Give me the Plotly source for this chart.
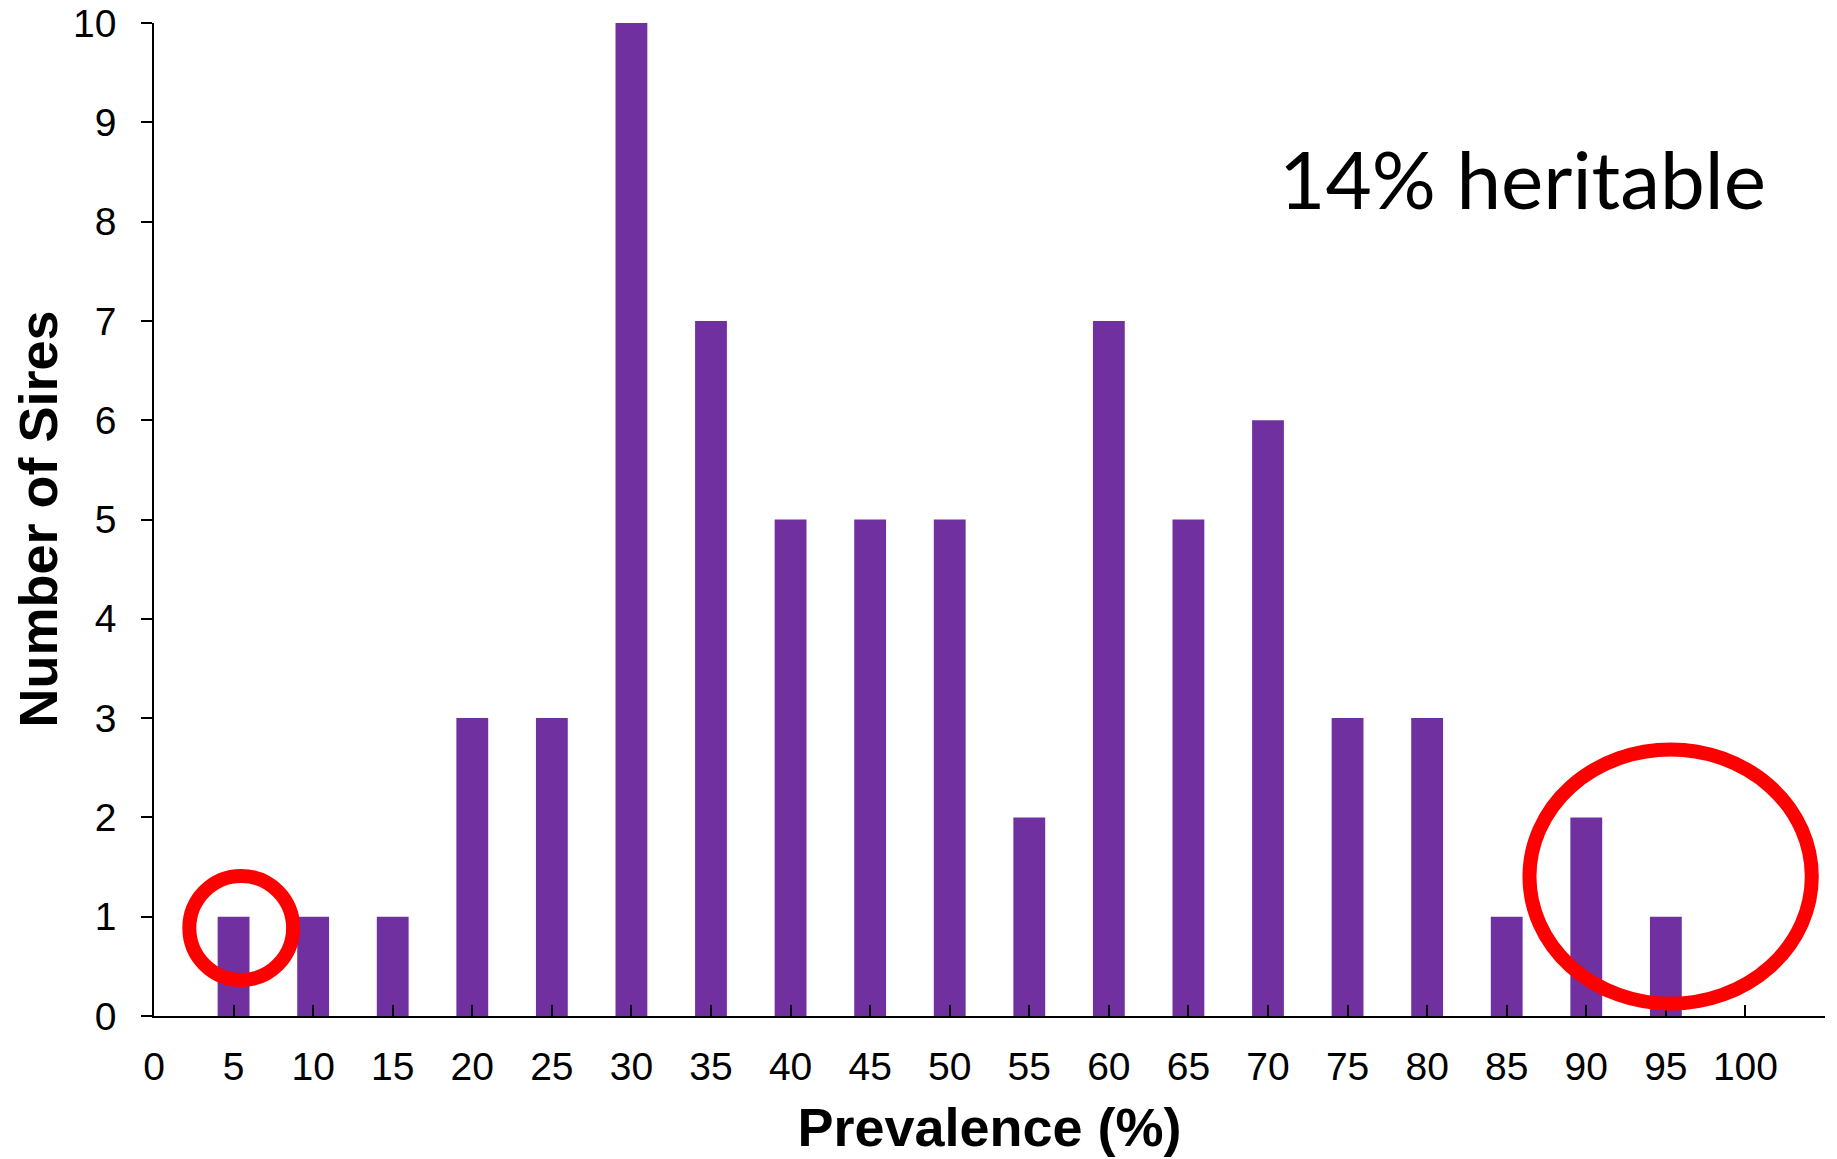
import plotly.graph_objects as go

# Data
prevalence = [5, 10, 15, 20, 25, 30, 35, 40, 45, 50, 55, 60, 65, 70, 75, 80, 85, 90, 95]
num_sires = [1, 1, 1, 3, 3, 10, 7, 5, 5, 5, 2, 7, 5, 6, 3, 3, 1, 2, 1]
x_tickvals = list(range(0, 106, 5))
x_ticktext = [str(v) for v in range(0, 101, 5)] + [""]
y_tickvals = list(range(0, 11))

fig = go.Figure()
fig.add_trace(go.Bar(
    x=prevalence, y=num_sires, width=2,
    marker=dict(color="#7030A0", line=dict(width=0)),
))

# Red highlight circles
fig.add_shape(type="circle", xref="x", yref="y",
              x0=5.48 - 3.26, x1=5.48 + 3.26, y0=0.886 - 0.524, y1=0.886 + 0.524,
              line=dict(color="#FF0000", width=14), layer="above")
fig.add_shape(type="circle", xref="x", yref="y",
              x0=95.3 - 8.87, x1=95.3 + 8.87, y0=1.404 - 1.28, y1=1.404 + 1.28,
              line=dict(color="#FF0000", width=14), layer="above")

fig.add_annotation(text="14% heritable", xref="paper", yref="paper",
                   x=(1522 - 153.5) / (1825 - 153.5), y=(1016 - 178) / (1016 - 23.4),
                   xanchor="center", yanchor="middle", showarrow=False,
                   font=dict(family="Comic Sans MS, Lato, sans-serif", size=80, color="black"))

# Y axis title as annotation for exact placement
fig.add_annotation(text="<b>Number of Sires</b>", xref="paper", yref="paper",
                   x=(37 - 154) / 1671, y=0.5, textangle=-90,
                   xanchor="center", yanchor="middle", showarrow=False,
                   font=dict(size=54, family="Arial, Liberation Sans, sans-serif", color="black"))

fig.update_layout(
    width=1837, height=1159,
    margin=dict(l=154, r=12, t=23, b=143),
    plot_bgcolor="white", paper_bgcolor="white",
    showlegend=False,
    font=dict(family="Arial, Liberation Sans, sans-serif", color="black"),
)
fig.update_xaxes(
    range=[0, 105], tickvals=x_tickvals, ticktext=x_ticktext, automargin=False,
    ticks="inside", ticklen=11, tickwidth=1.5, tickcolor="black",
    showline=True, linecolor="black", linewidth=2, showgrid=False, zeroline=False,
    tickfont=dict(size=39, family="Arial, Liberation Sans, sans-serif", color="black"),
    ticklabelstandoff=15,
    title=dict(text="<b>Prevalence (%)</b>", standoff=21,
               font=dict(size=54, family="Arial, Liberation Sans, sans-serif", color="black")),
)
fig.update_yaxes(
    range=[0, 10], tickvals=y_tickvals, automargin=False,
    ticks="outside", ticklen=11, tickwidth=1.5, tickcolor="black",
    showline=True, linecolor="black", linewidth=1.5, showgrid=False, zeroline=False,
    tickfont=dict(size=39, family="Arial, Liberation Sans, sans-serif", color="black"),
    ticklabelstandoff=17,
)

fig.write_html("out.html", config={"displayModeBar": False},
               post_script="document.body.style.margin='0';document.body.style.overflow='hidden';")
